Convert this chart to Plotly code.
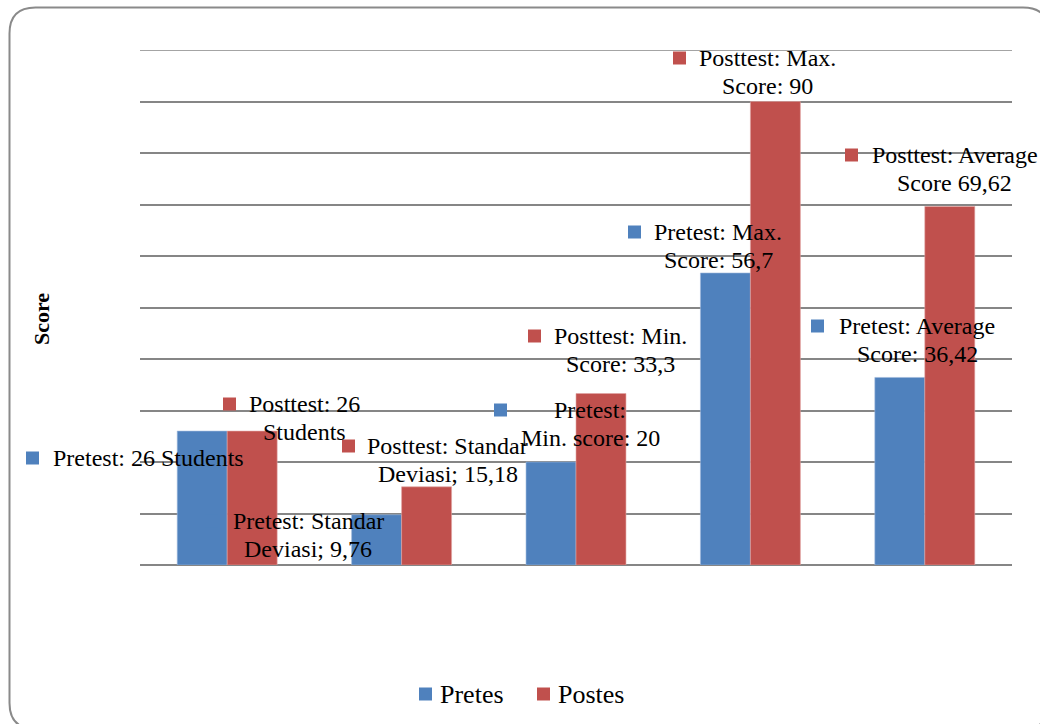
import plotly.graph_objects as go

# Data
categories = ["Students", "Standar Deviasi", "Min. Score", "Max. Score", "Average Score"]
pretest = [26, 9.76, 20, 56.7, 36.42]
posttest = [26, 15.18, 33.3, 90, 69.62]
series_names = ["Pretes", "Postes"]

BLUE = "#4F81BD"
RED = "#C0504D"
FONT = "Liberation Serif"

W, H = 1040, 724
L, R, T, B = 140, 1012, 50, 565  # plot area in pixels
Y_MAX = 100


def px(x):
    return (x - L) / (R - L)


def py(y):
    return (B - y) / (B - T)


def fmt(v):
    return f"{v:g}".replace(".", ",")


# Data labels: (series, index, line templates, key left px, first-line centre y px, text centre x px)
labels = [
    ("pre", 0, ["Pretest: {v} Students"], 26, 458, 148),
    ("post", 0, ["Posttest: {v}", "Students"], 223, 404, 304.5),
    ("pre", 1, ["Pretest: Standar", "Deviasi; {v}"], 205, 521, 308),
    ("post", 1, ["Posttest: Standar", "Deviasi; {v}"], 342, 446, 447.5),
    ("pre", 2, ["Pretest:", "Min. score: {v}"], 494, 410, 590),
    ("post", 2, ["Posttest: Min.", "Score: {v}"], 528, 336, 620.5),
    ("pre", 3, ["Pretest: Max.", "Score: {v}"], 628, 232, 718),
    ("post", 3, ["Posttest: Max.", "Score: {v}"], 673, 58, 767.5),
    ("pre", 4, ["Pretest: Average", "Score: {v}"], 811, 326, 917),
    ("post", 4, ["Posttest: Average", "Score {v}"], 845, 155, 954.5),
]

fig = go.Figure()
fig.add_trace(go.Bar(x=categories, y=pretest, name=series_names[0],
                     marker=dict(color=BLUE, line=dict(color="#9db8dc", width=0.6))))
fig.add_trace(go.Bar(x=categories, y=posttest, name=series_names[1],
                     marker=dict(color=RED, line=dict(color="#e0a5a3", width=0.6))))

annotations = []
shapes = []
LINE_H = 28
KEY = 13
for series, i, lines, key_left, y0, cx in labels:
    v = pretest[i] if series == "pre" else posttest[i]
    color = BLUE if series == "pre" else RED
    for k, line in enumerate(lines):
        annotations.append(dict(
            text=line.format(v=fmt(v)), x=px(cx), y=py(y0 + k * LINE_H),
            xref="paper", yref="paper", xanchor="center", yanchor="middle",
            showarrow=False, font=dict(family=FONT, size=24, color="#000000"),
        ))
    shapes.append(dict(
        type="rect", xref="paper", yref="paper",
        x0=px(key_left), x1=px(key_left + KEY),
        y0=py(y0 - KEY / 2), y1=py(y0 + KEY / 2),
        fillcolor=color, line=dict(width=0), layer="above",
    ))

# Axis title
annotations.append(dict(
    text="<b>Score</b>", x=px(41), y=py(319), xref="paper", yref="paper",
    xanchor="center", yanchor="middle", textangle=-90, showarrow=False,
    font=dict(family=FONT, size=22, color="#000000"),
))

# Legend drawn as key squares with text
legend_items = [(series_names[0], BLUE, 419), (series_names[1], RED, 537)]
LEG_Y = 694
for name, color, key_left in legend_items:
    shapes.append(dict(
        type="rect", xref="paper", yref="paper",
        x0=px(key_left), x1=px(key_left + 13),
        y0=py(LEG_Y - 6.5), y1=py(LEG_Y + 6.5),
        fillcolor=color, line=dict(width=0), layer="above",
    ))
    annotations.append(dict(
        text=name, x=px(key_left + 19), y=py(LEG_Y), xref="paper", yref="paper",
        xanchor="left", yanchor="middle", showarrow=False,
        font=dict(family=FONT, size=26, color="#000000"),
    ))

# Top gridline at the axis maximum
shapes.append(dict(type="line", xref="paper", yref="y", x0=0, x1=1,
                   y0=Y_MAX, y1=Y_MAX, line=dict(color="#868686", width=1.5),
                   layer="below"))

# Rounded outer frame
fl, ft, fr, fb, rad = 9.5, 7.5, 1049, 729, 26
frame_path = (
    f"M {px(fl)},{py(ft + rad)} "
    f"Q {px(fl)},{py(ft)} {px(fl + rad)},{py(ft)} "
    f"L {px(fr - rad)},{py(ft)} "
    f"Q {px(fr)},{py(ft)} {px(fr)},{py(ft + rad)} "
    f"L {px(fr)},{py(fb - rad)} "
    f"Q {px(fr)},{py(fb)} {px(fr - rad)},{py(fb)} "
    f"L {px(fl + rad)},{py(fb)} "
    f"Q {px(fl)},{py(fb)} {px(fl)},{py(fb - rad)} Z"
)
shapes.append(dict(type="path", path=frame_path, xref="paper", yref="paper",
                   line=dict(color="#8a8a8a", width=2), layer="below"))

fig.update_layout(
    width=W, height=H,
    margin=dict(l=L, r=W - R, t=T, b=H - B, pad=0),
    paper_bgcolor="white", plot_bgcolor="white",
    barmode="group", bargap=0.427, bargroupgap=0,
    showlegend=False,
    xaxis=dict(showticklabels=False, showgrid=False, zeroline=False,
               showline=False, ticks=""),
    yaxis=dict(range=[0, Y_MAX], dtick=10, showticklabels=False,
               showgrid=True, gridcolor="#868686", gridwidth=1.5,
               zeroline=True, zerolinecolor="#868686", zerolinewidth=1.5,
               showline=False, ticks=""),
    annotations=annotations,
    shapes=shapes,
)

fig.write_html("out.html")
